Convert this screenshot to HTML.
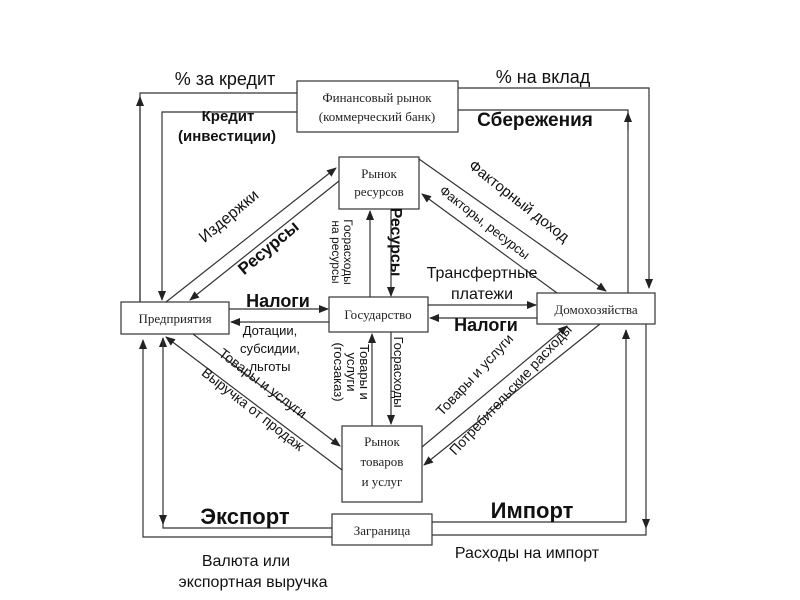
<!DOCTYPE html>
<html><head><meta charset="utf-8"><style>
html,body{margin:0;padding:0;background:#fff;}
svg{display:block;}
.b{font-family:"Liberation Sans",sans-serif;font-weight:bold;fill:#111;}
.s{font-family:"Liberation Serif",serif;fill:#222;font-size:13px;}
.n{font-family:"Liberation Sans",sans-serif;fill:#111;}
</style></head><body>
<svg width="800" height="600" viewBox="0 0 800 600" xmlns="http://www.w3.org/2000/svg">
<defs><marker id="a" markerWidth="10" markerHeight="8" refX="9" refY="4" orient="auto" markerUnits="userSpaceOnUse"><path d="M0,0 L10,4 L0,8 z" fill="#222"/></marker></defs>
<g stroke="#333" stroke-width="1.2" fill="none">
<!-- boxes -->
<rect x="297" y="81" width="161" height="51" fill="#fff"/>
<rect x="339" y="157" width="80" height="52" fill="#fff"/>
<rect x="121" y="302" width="108" height="32" fill="#fff"/>
<rect x="329" y="297" width="99" height="35" fill="#fff"/>
<rect x="537" y="293" width="118" height="31" fill="#fff"/>
<rect x="342" y="426" width="80" height="76" fill="#fff"/>
<rect x="332" y="514" width="100" height="31" fill="#fff"/>
<!-- outer left -->
<polyline points="297,93 140,93 140,302" />
<line x1="140" y1="302" x2="140" y2="97" marker-end="url(#a)"/>
<polyline points="332,537 143,537 143,340" marker-end="url(#a)"/>
<!-- inner left -->
<polyline points="297,112 162,112 162,300" marker-end="url(#a)"/>
<line x1="163" y1="345" x2="163" y2="338" marker-end="url(#a)"/>
<polyline points="332,528 163,528 163,340"/>
<line x1="163" y1="515" x2="163" y2="524" marker-end="url(#a)"/>
<!-- right -->
<polyline points="458,88 649,88 649,288" marker-end="url(#a)"/>
<polyline points="458,110 628,110 628,293"/>
<line x1="628" y1="130" x2="628" y2="113" marker-end="url(#a)"/>
<polyline points="432,522 626,522 626,330" marker-end="url(#a)"/>
<polyline points="646,324 646,528" marker-end="url(#a)"/>
<polyline points="646,528 646,535 432,535"/>
<!-- diagonals upper -->
<line x1="166" y1="302" x2="336" y2="168" marker-end="url(#a)"/>
<line x1="339" y1="181" x2="190" y2="300" marker-end="url(#a)"/>
<line x1="419" y1="159" x2="606" y2="291" marker-end="url(#a)"/>
<line x1="557" y1="293" x2="422" y2="194" marker-end="url(#a)"/>
<!-- verticals -->
<line x1="370" y1="297" x2="370" y2="211" marker-end="url(#a)"/>
<line x1="391" y1="209" x2="391" y2="296" marker-end="url(#a)"/>
<line x1="372" y1="426" x2="372" y2="334" marker-end="url(#a)"/>
<line x1="391" y1="332" x2="391" y2="424" marker-end="url(#a)"/>
<!-- horizontals -->
<line x1="229" y1="309" x2="328" y2="309" marker-end="url(#a)"/>
<line x1="329" y1="322" x2="231" y2="322" marker-end="url(#a)"/>
<line x1="428" y1="305" x2="536" y2="305" marker-end="url(#a)"/>
<line x1="537" y1="318" x2="430" y2="318" marker-end="url(#a)"/>
<!-- diagonals lower -->
<line x1="342" y1="470" x2="166" y2="337" marker-end="url(#a)"/>
<line x1="193" y1="334" x2="340" y2="446" marker-end="url(#a)"/>
<line x1="422" y1="447" x2="567" y2="326" marker-end="url(#a)"/>
<line x1="600" y1="324" x2="424" y2="465" marker-end="url(#a)"/>
</g>
<!-- box labels -->
<text class="s" x="377" y="102" text-anchor="middle">Финансовый рынок</text>
<text class="s" x="377" y="121" text-anchor="middle">(коммерческий банк)</text>
<text class="s" x="379" y="178" text-anchor="middle">Рынок</text>
<text class="s" x="379" y="196" text-anchor="middle">ресурсов</text>
<text class="s" x="175" y="323" text-anchor="middle" font-size="12">Предприятия</text>
<text class="s" x="378" y="319" text-anchor="middle">Государство</text>
<text class="s" x="596" y="314" text-anchor="middle">Домохозяйства</text>
<text class="s" x="382" y="446" text-anchor="middle">Рынок</text>
<text class="s" x="382" y="466" text-anchor="middle">товаров</text>
<text class="s" x="382" y="486" text-anchor="middle">и услуг</text>
<text class="s" x="382" y="535" text-anchor="middle" font-size="12">Заграница</text>
<!-- flow labels -->
<text class="n" x="225" y="85" text-anchor="middle" font-size="18">% за кредит</text>
<text class="n" x="543" y="83" text-anchor="middle" font-size="18">% на вклад</text>
<text class="b" x="228" y="121" text-anchor="middle" font-size="15">Кредит</text>
<text class="b" x="227" y="141" text-anchor="middle" font-size="15">(инвестиции)</text>
<text class="b" x="535" y="126" text-anchor="middle" font-size="19">Сбережения</text>
<text class="n" transform="translate(232,220) rotate(-40)" text-anchor="middle" font-size="16">Издержки</text>
<text class="b" transform="translate(272,252) rotate(-40)" text-anchor="middle" font-size="17">Ресурсы</text>
<text class="n" transform="translate(344,252) rotate(90)" text-anchor="middle" font-size="12">Госрасходы</text>
<text class="n" transform="translate(332,252) rotate(90)" text-anchor="middle" font-size="12">на ресурсы</text>
<text class="b" transform="translate(391,242) rotate(90)" text-anchor="middle" font-size="16">Ресурсы</text>
<text class="n" transform="translate(516,205) rotate(38)" text-anchor="middle" font-size="15">Факторный доход</text>
<text class="n" transform="translate(482,226) rotate(38)" text-anchor="middle" font-size="13">Факторы, ресурсы</text>
<text class="n" x="482" y="278" text-anchor="middle" font-size="16">Трансфертные</text>
<text class="n" x="482" y="299" text-anchor="middle" font-size="16">платежи</text>
<text class="b" x="278" y="307" text-anchor="middle" font-size="18">Налоги</text>
<text class="b" x="486" y="331" text-anchor="middle" font-size="18">Налоги</text>
<text class="n" x="270" y="335" text-anchor="middle" font-size="13">Дотации,</text>
<text class="n" x="270" y="353" text-anchor="middle" font-size="13">субсидии,</text>
<text class="n" x="270" y="371" text-anchor="middle" font-size="13">льготы</text>
<text class="n" transform="translate(360,372) rotate(90)" text-anchor="middle" font-size="13">Товары и</text>
<text class="n" transform="translate(347,372) rotate(90)" text-anchor="middle" font-size="13">услуги</text>
<text class="n" transform="translate(334,372) rotate(90)" text-anchor="middle" font-size="13">(госзаказ)</text>
<text class="n" transform="translate(394,372) rotate(90)" text-anchor="middle" font-size="13">Госрасходы</text>
<text class="n" transform="translate(260,387) rotate(37)" text-anchor="middle" font-size="14">Товары и услуги</text>
<text class="n" transform="translate(250,413) rotate(38)" text-anchor="middle" font-size="14">Выручка от продаж</text>
<text class="n" transform="translate(478,378) rotate(-47)" text-anchor="middle" font-size="14">Товары и услуги</text>
<text class="n" transform="translate(514,393) rotate(-47)" text-anchor="middle" font-size="14">Потребительские расходы</text>
<text class="b" x="245" y="524" text-anchor="middle" font-size="22">Экспорт</text>
<text class="b" x="532" y="518" text-anchor="middle" font-size="22">Импорт</text>
<text class="n" x="246" y="566" text-anchor="middle" font-size="16">Валюта или</text>
<text class="n" x="253" y="587" text-anchor="middle" font-size="16">экспортная выручка</text>
<text class="n" x="527" y="558" text-anchor="middle" font-size="16">Расходы на импорт</text>
</svg>
</body></html>
